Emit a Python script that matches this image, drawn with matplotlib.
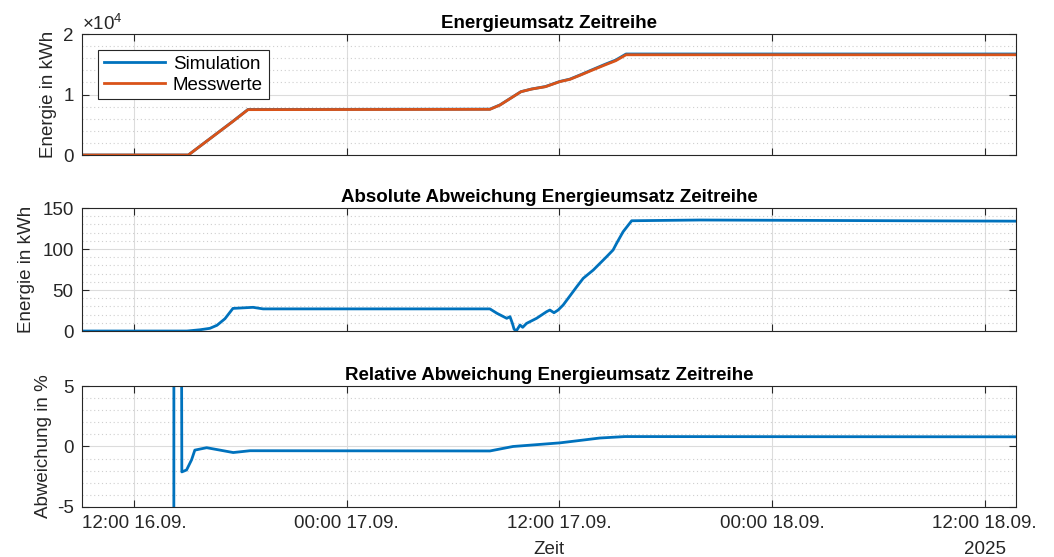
import pandas as pd
import matplotlib
matplotlib.use("Agg")
import matplotlib.pyplot as plt
import matplotlib.dates as mdates
from matplotlib.ticker import MultipleLocator
from matplotlib.transforms import blended_transform_factory

plt.rcParams["font.family"] = ["Liberation Sans", "DejaVu Sans"]
plt.rcParams["mathtext.fontset"] = "custom"
plt.rcParams["mathtext.rm"] = "Liberation Sans"
plt.rcParams["axes.unicode_minus"] = False

# --- Data ---
energy_times = ["2025-09-16 09:04", "2025-09-16 15:04", "2025-09-16 17:35", "2025-09-16 18:26",
                "2025-09-17 08:05", "2025-09-17 08:39", "2025-09-17 09:50", "2025-09-17 10:26",
                "2025-09-17 11:13", "2025-09-17 12:01", "2025-09-17 12:36", "2025-09-17 13:12",
                "2025-09-17 13:47", "2025-09-17 14:34", "2025-09-17 15:11", "2025-09-17 15:46",
                "2025-09-18 13:46"]
sim_kwh  = [0, 0, 5580, 7530, 7580, 8280, 10470, 10910, 11320, 12150, 12550, 13270,
            14010, 14980, 15700, 16700, 16700]
mess_kwh = [0, 0, 5560, 7500, 7550, 8260, 10460, 10900, 11290, 12120, 12510, 13220,
            13940, 14880, 15590, 16570, 16570]

abs_times = ["2025-09-16 09:04", "2025-09-16 14:59", "2025-09-16 15:43", "2025-09-16 16:17",
             "2025-09-16 16:41", "2025-09-16 17:08", "2025-09-16 17:35", "2025-09-16 18:43",
             "2025-09-16 19:17", "2025-09-17 08:05", "2025-09-17 08:29", "2025-09-17 09:02",
             "2025-09-17 09:13", "2025-09-17 09:21", "2025-09-17 09:27", "2025-09-17 09:35",
             "2025-09-17 09:47", "2025-09-17 09:56", "2025-09-17 10:09", "2025-09-17 10:43",
             "2025-09-17 11:17", "2025-09-17 11:28", "2025-09-17 11:42", "2025-09-17 11:56",
             "2025-09-17 12:13", "2025-09-17 12:59", "2025-09-17 13:21", "2025-09-17 13:55",
             "2025-09-17 14:40", "2025-09-17 15:02", "2025-09-17 15:14", "2025-09-17 15:36",
             "2025-09-17 16:05", "2025-09-17 19:56", "2025-09-18 13:46"]
abs_kwh = [0, 0, 1.5, 3.3, 7, 15, 27.6, 28.9, 27, 27, 21.6, 15.5,
           17.5, 9.5, 2.1, 0.4, 7.3, 4.5, 9.3, 15.5, 23.6, 25.6, 22.3, 25.6,
           31.7, 54, 64.3, 74.4, 90.6, 98.8, 107, 121.1, 134.5, 135.4, 134]

rel_times = ["2025-09-16 14:14", "2025-09-16 14:16", "2025-09-16 14:38", "2025-09-16 14:42",
             "2025-09-16 14:58", "2025-09-16 15:15", "2025-09-16 15:26", "2025-09-16 16:06",
             "2025-09-16 16:40", "2025-09-16 17:36", "2025-09-16 18:33", "2025-09-17 08:05",
             "2025-09-17 09:23", "2025-09-17 12:02", "2025-09-17 13:10", "2025-09-17 14:17",
             "2025-09-17 15:42", "2025-09-18 13:46"]
rel_pct = [-80, 80, 40, -2.1, -1.94, -1.1, -0.3, -0.1, -0.25, -0.5, -0.35, -0.37,
           0.0, 0.3, 0.5, 0.7, 0.82, 0.8]

tick_times  = ["2025-09-16 12:00", "2025-09-17 00:00", "2025-09-17 12:00",
               "2025-09-18 00:00", "2025-09-18 12:00"]
tick_labels = ["12:00 16.09.", "00:00 17.09.", "12:00 17.09.", "00:00 18.09.", "12:00 18.09."]
x_range = ["2025-09-16 09:04", "2025-09-18 13:46"]
energy_ticks = [0, 10000, 20000]
energy_tick_labels = ["0", "1", "2"]

# --- Style ---
BLUE, ORANGE = "#0072BD", "#D95319"
AXC = "#262626"
FS = 13.5

fig = plt.figure(figsize=(10.54, 5.57), dpi=100)
positions = [[0.0778, 0.7217, 0.8861, 0.2172],
             [0.0778, 0.4057, 0.8861, 0.2208],
             [0.0778, 0.0898, 0.8861, 0.2172]]
axes = [fig.add_axes(p) for p in positions]

t_e = pd.to_datetime(energy_times)
t_a = pd.to_datetime(abs_times)
t_r = pd.to_datetime(rel_times)
t_ticks = pd.to_datetime(tick_times)
xlim = pd.to_datetime(x_range)

axes[0].plot(t_e, sim_kwh, color=BLUE, lw=2, label="Simulation")
axes[0].plot(t_e, mess_kwh, color=ORANGE, lw=2, label="Messwerte")
axes[1].plot(t_a, abs_kwh, color=BLUE, lw=2)
axes[2].plot(t_r, rel_pct, color=BLUE, lw=2)

titles = ["Energieumsatz Zeitreihe",
          "Absolute Abweichung Energieumsatz Zeitreihe",
          "Relative Abweichung Energieumsatz Zeitreihe"]
ylims = [(0, 20000), (0, 150), (-5, 5)]
majors = [10000, 50, 5]
minors = [2000, 10, 1]
ylabels = ["Energie in kWh", "Energie in kWh", "Abweichung in %"]
label_x = [-0.0268, -0.0503, -0.032]

for ax, title, yl, mj, mn, lab, lx in zip(axes, titles, ylims, majors, minors, ylabels, label_x):
    ax.set_xlim(xlim[0], xlim[1])
    ax.set_ylim(*yl)
    ax.yaxis.set_major_locator(MultipleLocator(mj))
    ax.yaxis.set_minor_locator(MultipleLocator(mn))
    ax.set_xticks(t_ticks)
    ax.set_xticklabels(tick_labels)
    ax.grid(True, which="major", color="#dcdcdc", lw=0.8, ls="-")
    ax.grid(True, which="minor", axis="y", color="#cfcfcf", lw=0.8, ls=(0, (1, 2.5)))
    ax.set_axisbelow(True)
    ax.tick_params(which="major", direction="in", length=5, width=0.8, colors=AXC,
                   labelsize=FS, top=True, right=True, pad=6)
    ax.tick_params(which="minor", length=0)
    for sp in ax.spines.values():
        sp.set_color(AXC)
        sp.set_linewidth(0.8)
    ax.set_title(title, fontsize=13.5, fontweight="bold", color="black", pad=4)
    ax.set_ylabel(lab, fontsize=FS, color=AXC)
    ax.yaxis.set_label_coords(lx, 0.5)

for ax in axes[:2]:
    ax.tick_params(labelbottom=False)

axes[0].set_yticks(energy_ticks)
axes[0].set_yticklabels(energy_tick_labels)
axes[0].text(0.0, 1.003, r"$\times10^{4}$", transform=axes[0].transAxes,
             fontsize=FS, color=AXC, ha="left", va="bottom")

leg = axes[0].legend(loc="upper left", bbox_to_anchor=(0.017, 0.868), borderaxespad=0,
                     fancybox=False, framealpha=1, edgecolor=AXC, fontsize=FS,
                     handlelength=3.3, handletextpad=0.4, borderpad=0.3, labelspacing=0.2)
leg.get_frame().set_linewidth(0.8)

axes[2].set_xlabel("Zeit", fontsize=FS, color=AXC)
axes[2].xaxis.set_label_coords(0.5, -0.285)
trans = blended_transform_factory(axes[2].transData, axes[2].transAxes)
axes[2].text(mdates.date2num(t_ticks[-1]), -0.285, "2025", transform=trans,
             ha="center", va="top", fontsize=FS, color=AXC)

fig.savefig("out.png", dpi=100)
